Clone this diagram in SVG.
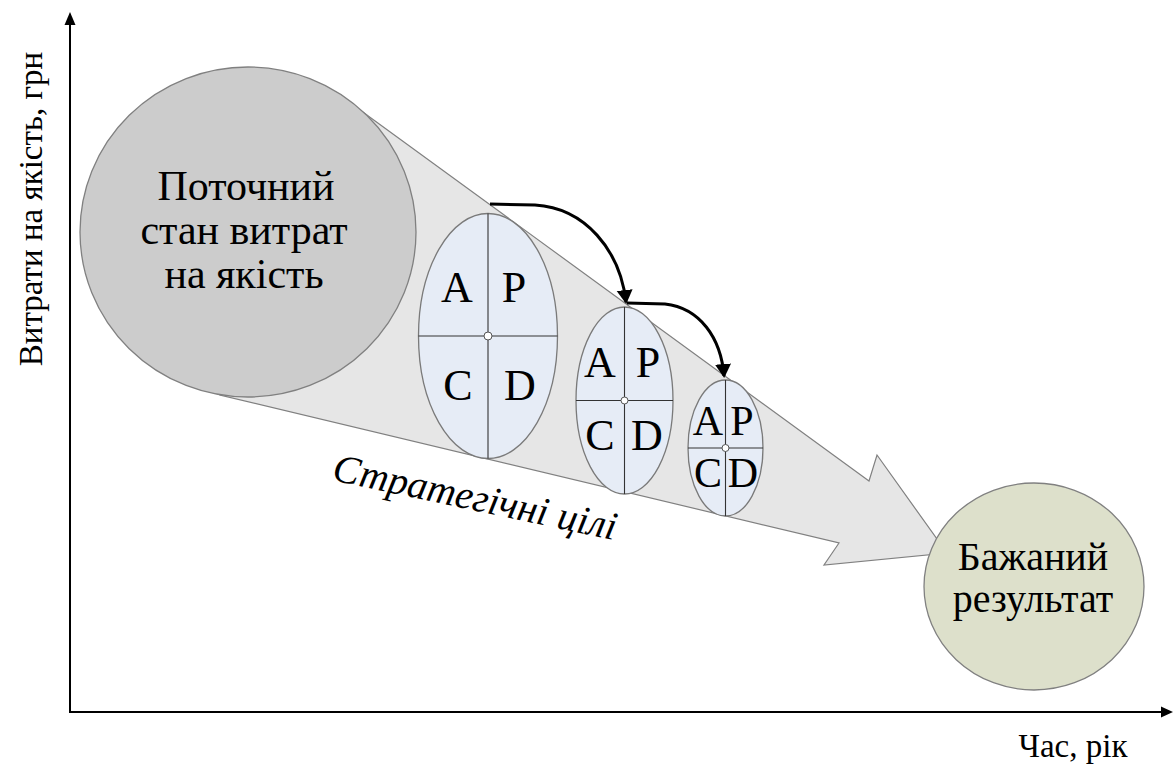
<svg xmlns="http://www.w3.org/2000/svg" width="1173" height="769" viewBox="0 0 1173 769" font-family="'Liberation Serif', 'Times New Roman', serif">
<style>
text{font-family:'Liberation Serif','Times New Roman',serif}
.big{font-size:42px}
.lbl{font-size:33px}
.ell{fill:#E6ECF6;stroke:#7A7A7A;stroke-width:1.3}
.cross{stroke:#333;stroke-width:1.1}
.dot{fill:#fff;stroke:#555;stroke-width:1}
.axis{stroke:#000;stroke-width:2;fill:none}
.curve{stroke:#000;stroke-width:3;fill:none}
</style>
<defs>
<marker id="ah" markerUnits="userSpaceOnUse" markerWidth="18" markerHeight="18" refX="12" refY="8" orient="auto">
<path d="M0,0 L14,8 L0,16 z" fill="#000"/>
</marker>
</defs>
<rect width="1173" height="769" fill="#fff"/>

<g id="axes">
<line class="axis" x1="70" y1="713" x2="70" y2="22"/>
<path d="M70,12 L64.5,25 L75.5,25 z" fill="#000"/>
<line class="axis" x1="69" y1="712" x2="1162" y2="712"/>
<path d="M1173,712 L1161,706.5 L1161,717.5 z" fill="#000"/>
<text class="lbl" transform="translate(42,209) rotate(-90)" text-anchor="middle">Витрати на якість, грн</text>
<text class="lbl" x="1073" y="757" text-anchor="middle">Час, рік</text>
</g>

<g id="cone">
<path d="M360,110 L869,481 L877,455 L947,553 L824,565 L839,543 L220,395 z" fill="#E6E6E6" stroke="#808080" stroke-width="1.2"/>
<text font-size="40" font-style="italic" transform="translate(331,480) rotate(12)">Стратегічні цілі</text>
</g>

<g id="current">
<ellipse cx="248" cy="232" rx="168" ry="165" fill="#CCCCCC" stroke="#808080" stroke-width="1.3"/>
<text class="big" x="246" y="200" text-anchor="middle">Поточний</text>
<text class="big" x="244" y="244" text-anchor="middle">стан витрат</text>
<text class="big" x="244" y="288" text-anchor="middle">на якість</text>
</g>

<g id="pdca1">
<ellipse class="ell" cx="488" cy="336" rx="69.5" ry="122.5"/>
<line class="cross" x1="488" y1="213.5" x2="488" y2="458.5"/>
<line class="cross" x1="418.5" y1="336" x2="557.5" y2="336"/>
<circle class="dot" cx="488" cy="336" r="4"/>
<text font-size="44" x="457" y="302" text-anchor="middle">A</text>
<text font-size="44" x="514" y="302" text-anchor="middle">P</text>
<text font-size="44" x="458" y="400" text-anchor="middle">C</text>
<text font-size="44" x="520" y="400" text-anchor="middle">D</text>
</g>

<g id="pdca2">
<ellipse class="ell" cx="624.5" cy="400.5" rx="48.5" ry="93.5"/>
<line class="cross" x1="624.5" y1="307" x2="624.5" y2="494"/>
<line class="cross" x1="576" y1="400.5" x2="673" y2="400.5"/>
<circle class="dot" cx="624.5" cy="400.5" r="3.5"/>
<text font-size="44" x="600" y="377" text-anchor="middle">A</text>
<text font-size="44" x="648" y="377" text-anchor="middle">P</text>
<text font-size="44" x="600" y="450" text-anchor="middle">C</text>
<text font-size="44" x="647" y="450" text-anchor="middle">D</text>
</g>

<g id="pdca3">
<ellipse class="ell" cx="725.5" cy="448" rx="37.5" ry="68"/>
<line class="cross" x1="725.5" y1="380" x2="725.5" y2="516"/>
<line class="cross" x1="688" y1="448" x2="763" y2="448"/>
<circle class="dot" cx="725.5" cy="448" r="3.5"/>
<text font-size="42" x="708" y="435" text-anchor="middle">A</text>
<text font-size="42" x="742" y="435" text-anchor="middle">P</text>
<text font-size="42" x="708" y="487" text-anchor="middle">C</text>
<text font-size="42" x="743" y="487" text-anchor="middle">D</text>
</g>

<g id="result">
<ellipse cx="1034" cy="586.5" rx="110" ry="103.5" fill="#DDE0CB" stroke="#808080" stroke-width="1.3"/>
<text font-size="40" x="1033" y="570" text-anchor="middle">Бажаний</text>
<text font-size="40" x="1033" y="612" text-anchor="middle">результат</text>
</g>

<g id="connectors">
<path class="curve" d="M490,204 L535,205 C585,208 620,250 626,302" marker-end="url(#ah)"/>
<path class="curve" d="M627,303 L665,304 C700,308 721,338 724,376" marker-end="url(#ah)"/>
</g>
</svg>
